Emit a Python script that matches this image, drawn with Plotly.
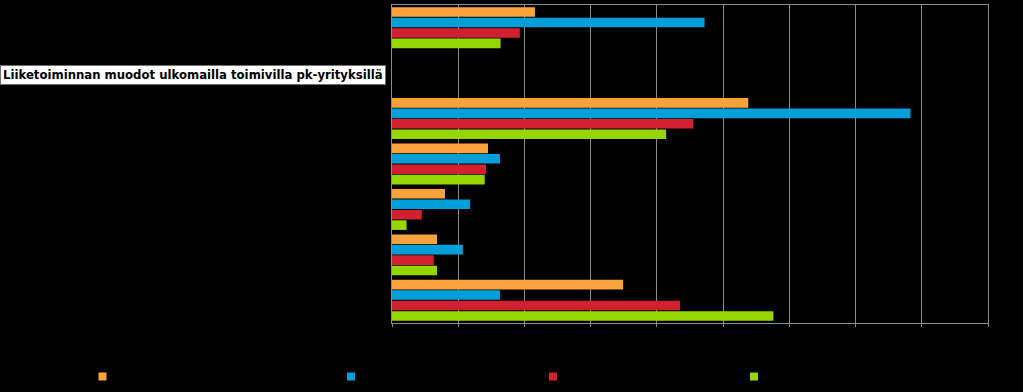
import plotly.graph_objects as go

# Categories (labels are not legible in the reference: black on black)
categories = ["Luokka 1", "Luokka 2", "Luokka 3", "Luokka 4", "Luokka 5", "Luokka 6", "Luokka 7"]
series_names = ["Sarja 1", "Sarja 2", "Sarja 3", "Sarja 4"]

orange_vals = [21.6, None, 53.8, 14.5, 8.0, 6.8, 34.9]
blue_vals = [47.2, None, 78.3, 16.3, 11.8, 10.7, 16.3]
red_vals = [19.3, None, 45.5, 14.2, 4.5, 6.3, 43.5]
green_vals = [16.4, None, 41.4, 14.0, 2.2, 6.8, 57.6]

colors = ["#F9A23A", "#009FDA", "#D1202F", "#95D600"]
title_text = "Liiketoiminnan muodot ulkomailla toimivilla pk-yrityksillä"

W, H = 1023, 392
ML, MR, MT, MB = 392, 35, 5, 66
PW = W - ML - MR
PH = H - MT - MB

fig = go.Figure()
all_vals = [orange_vals, blue_vals, red_vals, green_vals]
for name, vals, col in zip(series_names, all_vals, colors):
    fig.add_trace(go.Bar(
        y=categories, x=vals, orientation="h", name=name,
        marker=dict(color=col, line=dict(width=0)),
        showlegend=False,
    ))

# legend markers placed at their own positions
legend_px = [102.5, 351, 553, 754]
legend_keys = ["legend", "legend2", "legend3", "legend4"]
for name, col, key in zip(series_names, colors, legend_keys):
    fig.add_trace(go.Scatter(
        x=[None], y=[None], mode="markers", name=name,
        marker=dict(symbol="square", size=8, color=col, line=dict(width=0)),
        legend=key, showlegend=True,
    ))

layout_legends = {}
for px, key in zip(legend_px, legend_keys):
    layout_legends[key] = dict(
        x=(px - 20 - ML) / PW, xanchor="left",
        y=-(376 - (H - MB)) / PH, yanchor="middle",
        bgcolor="rgba(0,0,0,0)", borderwidth=0,
        font=dict(color="#000000", size=8),
        orientation="h",
    )

fig.update_layout(
    width=W, height=H,
    margin=dict(l=ML, r=MR, t=MT, b=MB),
    paper_bgcolor="#000000", plot_bgcolor="#000000",
    barmode="group", bargap=0.08, bargroupgap=0.08,
    xaxis=dict(
        range=[0, 90], dtick=10, showgrid=True, gridcolor="#8C8C8C", gridwidth=1,
        zeroline=False, showline=True, linecolor="#8C8C8C", linewidth=1, mirror=True,
        ticks="outside", ticklen=3, tickcolor="#8C8C8C",
        showticklabels=False,
    ),
    yaxis=dict(
        categoryorder="array", categoryarray=categories,
        range=[6.5, -0.5], showgrid=False, zeroline=False,
        showline=True, linecolor="#8C8C8C", linewidth=1, mirror=True,
        showticklabels=False, ticks="",
    ),
    annotations=[dict(
        text="<b>" + title_text + "</b>",
        xref="paper", yref="paper",
        x=-ML / PW, xanchor="left",
        y=1 - (76 - MT) / PH, yanchor="middle",
        showarrow=False,
        font=dict(family="DejaVu Sans", size=11.7, color="#000000"),
        bgcolor="#FFFFFF", bordercolor="#6E6E6E", borderwidth=1, borderpad=2,
    )],
    **layout_legends,
)

post_js = (
    "document.body.style.margin='0';document.body.style.background='#000';"
    "document.querySelectorAll('g.legend, g.legend2, g.legend3, g.legend4').forEach(function(g){"
    "var t=g.getAttribute('transform')||'';"
    "var m=/translate\\(([-\\d.]+)[ ,]+([-\\d.]+)\\)/.exec(t);"
    "if(m){g.setAttribute('transform','translate('+m[1]+','+(parseFloat(m[2])+4)+')');}"
    "});"
)

fig.write_html("out.html", config={"displayModeBar": False}, post_script=post_js)
